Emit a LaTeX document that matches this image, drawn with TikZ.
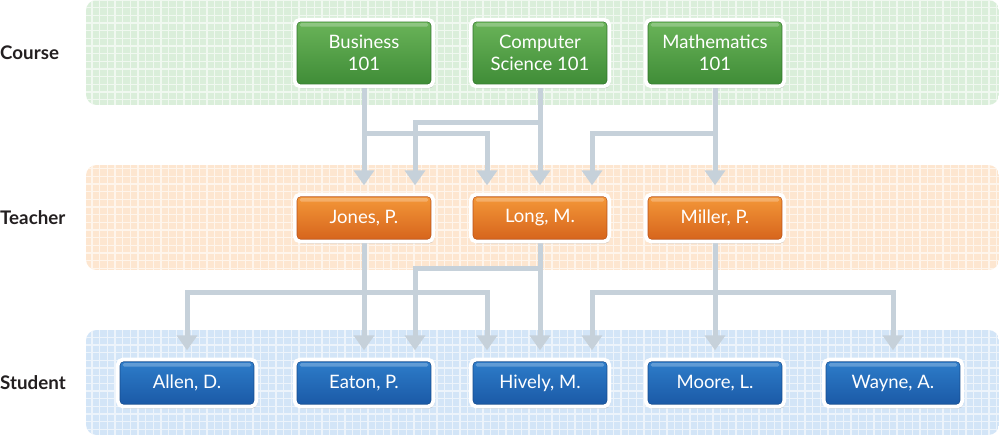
\documentclass[tikz,border=0pt]{standalone}
\usepackage{fontspec}
\setmainfont{Lato}
\usetikzlibrary{arrows.meta,shadows,calc}
\definecolor{bandG}{HTML}{DAEEDA}
\definecolor{bandO}{HTML}{FDE6D0}
\definecolor{bandB}{HTML}{D3E5F7}
\definecolor{lineC}{HTML}{C6D1DA}
\definecolor{labC}{HTML}{231F20}
\definecolor{gTop}{HTML}{6BB55A}
\definecolor{gBot}{HTML}{3E8B36}
\definecolor{gEdge}{HTML}{2F7429}
\definecolor{oTop}{HTML}{F59A3A}
\definecolor{oBot}{HTML}{D5621B}
\definecolor{oEdge}{HTML}{B9521A}
\definecolor{bTop}{HTML}{2E7ECB}
\definecolor{bBot}{HTML}{1A58A5}
\definecolor{bEdge}{HTML}{164C8E}
\pgfdeclarelayer{bands}
\pgfdeclarelayer{lines}
\pgfsetlayers{bands,lines,main}
\tikzset{
  box/.style={rounded corners=4.5pt, draw=white, line width=3.2pt, text=white,
    font=\fontsize{15.8}{19}\selectfont, align=center,
    minimum width=4.15cm, inner sep=2pt,
    drop shadow={opacity=0.35, shadow xshift=1pt, shadow yshift=-1.8pt},
    path picture={
      \draw[#1, line width=1pt, rounded corners=3pt]
        ([shift={(1.7pt,-1.7pt)}]path picture bounding box.north west)
        rectangle ([shift={(-1.7pt,1.7pt)}]path picture bounding box.south east);
      \fill[white, opacity=0.25, rounded corners=1.5pt]
        ([shift={(4pt,-3pt)}]path picture bounding box.north west)
        rectangle ([shift={(-4pt,-6pt)}]path picture bounding box.north east);
    }},
  crsbox/.style={box=gEdge, top color=gTop, bottom color=gBot, minimum height=2.0cm},
  tchbox/.style={box=oEdge, top color=oTop, bottom color=oBot, minimum height=1.41cm},
  stubox/.style={box=bEdge, top color=bTop, bottom color=bBot, minimum height=1.41cm},
  lab/.style={font=\fontsize{16}{19}\selectfont\bfseries, text=labC, anchor=west, inner sep=0pt},
  conn/.style={draw=lineC, line width=0.15cm, line join=miter,
    -{Triangle[width=0.6cm,length=0.45cm]}, shorten >=0.22cm},
  bandgrid/.style={white, line width=1.1pt, opacity=0.6, step=0.23cm}
}
\begin{document}
\begin{tikzpicture}[x=0.03cm,y=-0.03cm]
\useasboundingbox (0,0) rectangle (1000,437);

% row labels
\node[lab] (lc) at (0,53) {Course};
\node[lab] (lt) at (0,218) {Teacher};
\node[lab] (ls) at (0,383) {Student};

% course nodes
\node[crsbox] (bus) at (364,53) {Business\\101};
\node[crsbox] (cs) at (540,53) {Computer\\Science 101};
\node[crsbox] (math) at (715,53) {Mathematics\\101};

% teacher nodes
\node[tchbox] (jones) at (364,218) {Jones, P.};
\node[tchbox] (long) at (540,218) {Long, M.};
\node[tchbox] (miller) at (715,218) {Miller, P.};

% student nodes
\node[stubox] (allen) at (187,383) {Allen, D.};
\node[stubox] (eaton) at (364,383) {Eaton, P.};
\node[stubox] (hively) at (540,383) {Hively, M.};
\node[stubox] (moore) at (715,383) {Moore, L.};
\node[stubox] (wayne) at (893,383) {Wayne, A.};

% bend points
\coordinate (c1) at (487,133);
\coordinate (c2) at (415,122);
\coordinate (c3) at (592,133);
\coordinate (d1) at (187,292);
\coordinate (d2) at (487,292);
\coordinate (d3) at (415,268);
\coordinate (d4) at (592,292);
\coordinate (d5) at (893,292);

\begin{pgfonlayer}{bands}
  \foreach \ya/\yb/\col in {0/105/bandG, 165/270/bandO, 330/435/bandB}{
    \begin{scope}
      \clip[rounded corners=9pt] (86,\ya) rectangle (999,\yb);
      \fill[\col] (86,\ya) rectangle (999,\yb);
      \draw[bandgrid] (86,\ya) grid (999,\yb);
    \end{scope}
  }
\end{pgfonlayer}

\begin{pgfonlayer}{lines}
  % course -> teacher
  \draw[conn] (bus.south) -- (jones.north);
  \draw[conn] (bus.south) |- (c1) -- (c1 |- long.north);
  \draw[conn] (cs.south) -- (long.north);
  \draw[conn] (cs.south) |- (c2) -- (c2 |- jones.north);
  \draw[conn] (math.south) -- (miller.north);
  \draw[conn] (math.south) |- (c3) -- (c3 |- long.north);
  % teacher -> student
  \draw[conn] (jones.south) -- (eaton.north);
  \draw[conn] (jones.south) |- (d1) -- (d1 |- allen.north);
  \draw[conn] (jones.south) |- (d2) -- (d2 |- hively.north);
  \draw[conn] (long.south) -- (hively.north);
  \draw[conn] (long.south) |- (d3) -- (d3 |- eaton.north);
  \draw[conn] (miller.south) -- (moore.north);
  \draw[conn] (miller.south) |- (d4) -- (d4 |- hively.north);
  \draw[conn] (miller.south) |- (d5) -- (d5 |- wayne.north);
\end{pgfonlayer}
\end{tikzpicture}
\end{document}
